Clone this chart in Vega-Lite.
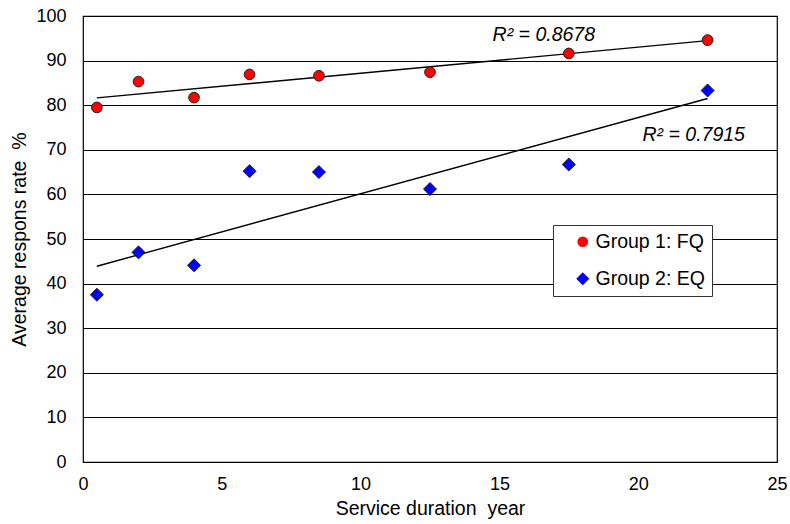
{
  "$schema": "https://vega.github.io/schema/vega-lite/v6.json",
  "width": 694,
  "height": 446,
  "autosize": {"type": "none"},
  "padding": {"left": 83, "top": 16, "right": 13, "bottom": 62},
  "background": "white",
  "config": {
    "font": "Liberation Sans",
    "view": {"stroke": "black", "strokeWidth": 1.2},
    "axis": {"labelFont": "Liberation Sans", "titleFont": "Liberation Sans", "labelColor": "black", "titleColor": "black", "titleFontWeight": "normal", "labelFontSize": 18, "titleFontSize": 19.5, "ticks": false, "domain": false, "labelFlush": false},
    "legend": {"labelFont": "Liberation Sans", "labelFontSize": 19.5, "labelColor": "black"}
  },
  "datasets": {
    "pts": [
      {"x": 0.5, "y": 79.5, "group": "Group 1: FQ"},
      {"x": 2, "y": 85.3, "group": "Group 1: FQ"},
      {"x": 4, "y": 81.7, "group": "Group 1: FQ"},
      {"x": 6, "y": 86.9, "group": "Group 1: FQ"},
      {"x": 8.5, "y": 86.6, "group": "Group 1: FQ"},
      {"x": 12.5, "y": 87.4, "group": "Group 1: FQ"},
      {"x": 17.5, "y": 91.6, "group": "Group 1: FQ"},
      {"x": 22.5, "y": 94.6, "group": "Group 1: FQ"},
      {"x": 0.5, "y": 37.5, "group": "Group 2: EQ"},
      {"x": 2, "y": 47.0, "group": "Group 2: EQ"},
      {"x": 4, "y": 44.1, "group": "Group 2: EQ"},
      {"x": 6, "y": 65.2, "group": "Group 2: EQ"},
      {"x": 8.5, "y": 65.0, "group": "Group 2: EQ"},
      {"x": 12.5, "y": 61.2, "group": "Group 2: EQ"},
      {"x": 17.5, "y": 66.7, "group": "Group 2: EQ"},
      {"x": 22.5, "y": 83.3, "group": "Group 2: EQ"}
    ],
    "labels": [
      {"x": 16.6, "y": 95.7, "label": "R² = 0.8678"},
      {"x": 22.0, "y": 73.3, "label": "R² = 0.7915"}
    ]
  },
  "encoding": {
    "x": {"field": "x", "type": "quantitative", "scale": {"domain": [0, 25], "nice": false, "zero": false},
          "axis": {"values": [0, 5, 10, 15, 20, 25], "grid": false, "labelPadding": 13, "title": "Service duration\u00a0 year", "titlePadding": 6}},
    "y": {"field": "y", "type": "quantitative", "scale": {"domain": [0, 100], "nice": false},
          "axis": {"values": [0, 10, 20, 30, 40, 50, 60, 70, 80, 90, 100], "grid": true, "gridColor": "black", "gridOpacity": 1, "gridWidth": 1, "labelPadding": 17, "title": "Average respons rate\u00a0 %", "titlePadding": 6}}
  },
  "layer": [
    {
      "data": {"name": "pts"},
      "transform": [{"regression": "y", "on": "x", "groupby": ["group"], "extent": [0.5, 22.5]}],
      "mark": {"type": "line", "color": "black", "strokeWidth": 1.4},
      "encoding": {
        "detail": {"field": "group"}
      }
    },
    {
      "data": {"name": "pts"},
      "mark": {"type": "point", "filled": true, "opacity": 1, "stroke": "#222222", "strokeWidth": 1},
      "encoding": {
        "fill": {"field": "group", "type": "nominal", "title": null,
                 "scale": {"domain": ["Group 1: FQ", "Group 2: EQ"], "range": ["#ff0000", "#0000ff"]},
                 "legend": {"title": null, "orient": "none", "legendX": 470, "legendY": 209, "fillColor": "white", "strokeColor": "#333333", "padding": 7, "symbolOffset": 13, "rowPadding": 16, "labelOffset": 3, "symbolStrokeColor": "#222222", "symbolStrokeWidth": 1}},
        "shape": {"field": "group", "type": "nominal", "title": null,
                  "scale": {"domain": ["Group 1: FQ", "Group 2: EQ"], "range": ["circle", "diamond"]},
                  "legend": {"title": null, "orient": "none", "legendX": 470, "legendY": 209, "fillColor": "white", "strokeColor": "#333333", "padding": 7, "symbolOffset": 13, "rowPadding": 16, "labelOffset": 3, "symbolStrokeColor": "#222222", "symbolStrokeWidth": 1}},
        "size": {"field": "group", "type": "nominal", "title": null,
                 "scale": {"domain": ["Group 1: FQ", "Group 2: EQ"], "range": [115, 170]},
                 "legend": {"title": null, "orient": "none", "legendX": 470, "legendY": 209, "fillColor": "white", "strokeColor": "#333333", "padding": 7, "symbolOffset": 13, "rowPadding": 16, "labelOffset": 3, "symbolStrokeColor": "#222222", "symbolStrokeWidth": 1}}
      }
    },
    {
      "data": {"name": "labels"},
      "mark": {"type": "text", "fontStyle": "italic", "fontSize": 19.5, "color": "black", "font": "Liberation Sans"},
      "encoding": {
        "text": {"field": "label"}
      }
    }
  ]
}
